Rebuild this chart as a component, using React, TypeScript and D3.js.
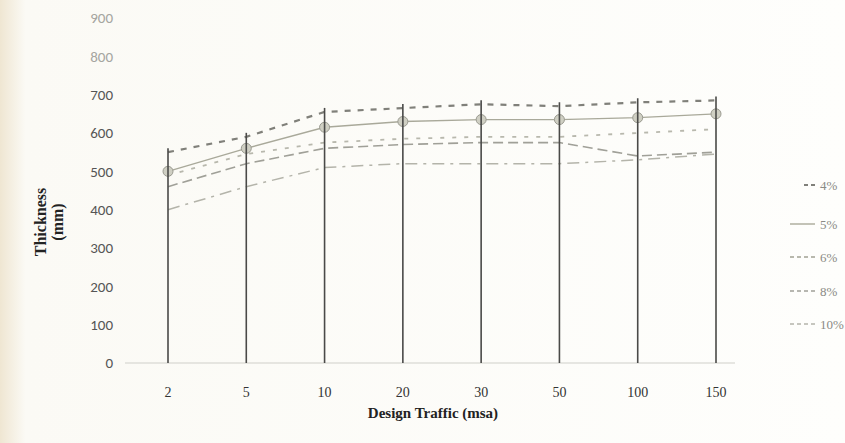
import React, { useEffect, useRef } from 'react';
import * as d3 from 'd3';

const categories = ['2', '5', '10', '20', '30', '50', '100', '150'];
const yTicks = [0, 100, 200, 300, 400, 500, 600, 700, 800, 900];
const seriesNames = ['4%', '5%', '6%', '8%', '10%'];
const s4 = [550, 590, 655, 665, 675, 670, 680, 685];
const s5 = [500, 560, 615, 630, 635, 635, 640, 650];
const s6 = [490, 545, 575, 585, 590, 590, 600, 610];
const s8 = [460, 520, 560, 570, 575, 575, 540, 550];
const s10 = [400, 460, 510, 520, 520, 520, 530, 545];
const seriesValues = [s4, s5, s6, s8, s10];

const W = 845;
const H = 443;

const App: React.FC = () => {
  const svgRef = useRef<SVGSVGElement>(null);

  useEffect(() => {
    if (!svgRef.current) return;
    const svg = d3.select(svgRef.current);
    svg.selectAll('*').remove();

    // paper background, slightly warm at the left edge like the scan
    const defs = svg.append('defs');
    const grad = defs.append('linearGradient').attr('id', 'paper').attr('x1', '0').attr('x2', '1');
    grad.append('stop').attr('offset', '0%').attr('stop-color', '#efe6d2');
    grad.append('stop').attr('offset', '3%').attr('stop-color', '#fbfaf5');
    grad.append('stop').attr('offset', '100%').attr('stop-color', '#fefefc');
    svg.append('rect').attr('width', W).attr('height', H).attr('fill', 'url(#paper)');

    const x = d3.scalePoint<string>().domain(categories).range([168, 716]);
    const y = d3.scaleLinear().domain([0, 900]).range([363, 18]);

    // y tick labels
    const yAxis = svg.append('g');
    yTicks.forEach((t) => {
      yAxis.append('text')
        .attr('x', 113)
        .attr('y', y(t))
        .attr('dy', '0.35em')
        .attr('text-anchor', 'end')
        .attr('font-family', 'Carlito, "Open Sans", sans-serif')
        .attr('font-size', 15)
        .attr('fill', t >= 800 ? '#a5a5a0' : '#555')
        .text(t);
    });

    // baseline
    svg.append('line')
      .attr('x1', 125).attr('x2', 735)
      .attr('y1', y(0)).attr('y2', y(0))
      .attr('stroke', '#cfcfca').attr('stroke-width', 1.2);

    // series lines
    const styles = [
      { stroke: '#80807a', dash: '6,7', width: 2.2 },
      { stroke: '#a9a99a', dash: 'none', width: 1.4 },
      { stroke: '#b8b8ad', dash: '4,8', width: 1.8 },
      { stroke: '#a0a098', dash: '10,5', width: 1.6 },
      { stroke: '#b4b4aa', dash: '12,6,3,6', width: 1.5 },
    ];
    const line = d3.line<number>()
      .x((_, i) => x(categories[i]) as number)
      .y((d) => y(d));

    seriesValues.forEach((vals, si) => {
      svg.append('path')
        .attr('d', line(vals) as string)
        .attr('fill', 'none')
        .attr('stroke', styles[si].stroke)
        .attr('stroke-width', styles[si].width)
        .attr('stroke-dasharray', styles[si].dash);
    });

    // markers on 5% series
    svg.append('g').selectAll('circle')
      .data(s5)
      .enter()
      .append('circle')
      .attr('cx', (_, i) => x(categories[i]) as number)
      .attr('cy', (d) => y(d))
      .attr('r', 5)
      .attr('fill', '#cfcfc3')
      .attr('stroke', '#9a9a90')
      .attr('stroke-width', 1);

    // drop lines from highest value to axis
    categories.forEach((c, i) => {
      const top = d3.max(seriesValues, (s) => s[i]) as number;
      svg.append('line')
        .attr('x1', x(c) as number).attr('x2', x(c) as number)
        .attr('y1', y(top) - 4).attr('y2', y(0))
        .attr('stroke', '#4a4a48').attr('stroke-width', 1.6);
    });

    // x labels
    categories.forEach((c) => {
      svg.append('text')
        .attr('x', x(c) as number)
        .attr('y', 397)
        .attr('text-anchor', 'middle')
        .attr('font-family', '"Liberation Serif", "DejaVu Serif", serif')
        .attr('font-size', 14)
        .attr('fill', '#333')
        .text(c);
    });

    // axis titles
    svg.append('text')
      .attr('x', 433).attr('y', 418)
      .attr('text-anchor', 'middle')
      .attr('font-family', '"Liberation Serif", serif')
      .attr('font-weight', 'bold')
      .attr('font-size', 15)
      .attr('fill', '#222')
      .text('Design Traffic (msa)');

    const yTitle = svg.append('text')
      .attr('transform', 'translate(46,222) rotate(-90)')
      .attr('text-anchor', 'middle')
      .attr('font-family', '"Liberation Serif", serif')
      .attr('font-weight', 'bold')
      .attr('font-size', 16)
      .attr('fill', '#222');
    yTitle.append('tspan').attr('x', 0).attr('dy', 0).text('Thickness');
    yTitle.append('tspan').attr('x', 0).attr('dy', 17).text('(mm)');

    // legend
    const legendY = [185, 224, 257, 291, 324];
    seriesNames.forEach((n, i) => {
      const ly = legendY[i];
      svg.append('line')
        .attr('x1', i === 0 ? 804 : 790).attr('x2', 815)
        .attr('y1', ly).attr('y2', ly)
        .attr('stroke', styles[i].stroke)
        .attr('stroke-width', styles[i].width)
        .attr('stroke-dasharray', styles[i].dash === 'none' ? null : '4,3');
      svg.append('text')
        .attr('x', 820).attr('y', ly)
        .attr('dy', '0.35em')
        .attr('font-family', '"Liberation Serif", serif')
        .attr('font-size', 13)
        .attr('fill', '#8a8a85')
        .text(n);
    });
  }, []);

  return (
    <svg
      ref={svgRef}
      width={W}
      height={H}
      style={{ position: 'absolute', left: 0, top: 0, display: 'block' }}
    />
  );
};

export default App;
